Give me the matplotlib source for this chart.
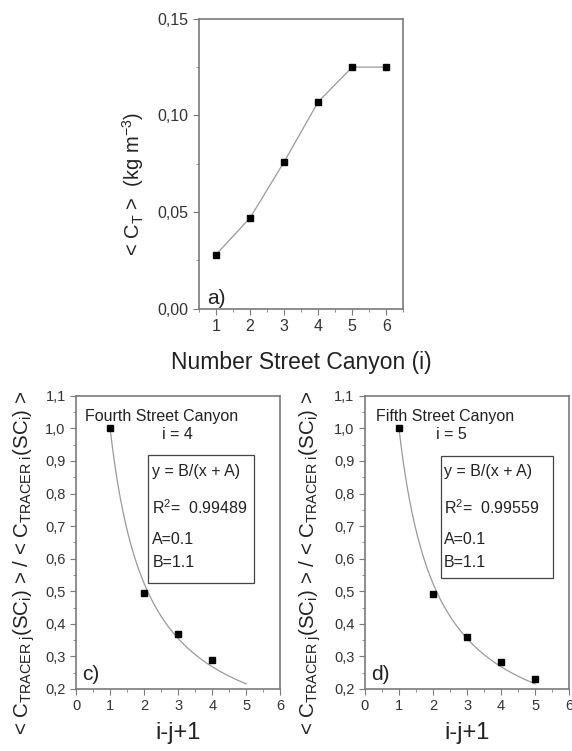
import numpy as np
import matplotlib.pyplot as plt
from matplotlib.ticker import MultipleLocator, FuncFormatter

plt.rcParams['font.family'] = ['Liberation Sans', 'DejaVu Sans']
plt.rcParams['mathtext.fontset'] = 'custom'
plt.rcParams['mathtext.rm'] = 'Liberation Sans'
plt.rcParams['mathtext.it'] = 'Liberation Sans'

# panel a) mean tracer concentration per street canyon
canyon = [1, 2, 3, 4, 5, 6]
conc = [0.028, 0.047, 0.076, 0.107, 0.125, 0.125]

# panel c) fourth street canyon, i = 4
c_x = [1, 2, 3, 4]
c_y = [1.0, 0.495, 0.37, 0.29]
c_r2 = "0.99489"

# panel d) fifth street canyon, i = 5
d_x = [1, 2, 3, 4, 5]
d_y = [1.0, 0.49, 0.358, 0.283, 0.232]
d_r2 = "0.99559"

# fit parameters y = B/(x + A)
fit_A = 0.1
fit_B = 1.1

axis_grey = '#7a7a7a'
line_grey = '#9a9a9a'
txt = '#222222'


def style_axes(ax, size):
    for s in ax.spines.values():
        s.set_color(axis_grey)
        s.set_linewidth(1.2)
    ax.tick_params(which='both', direction='out', colors=axis_grey,
                   labelcolor='#333333', labelsize=size)
    ax.tick_params(which='major', length=4)
    ax.tick_params(which='minor', length=2.5)
    ax.tick_params(top=False, right=False)


fig = plt.figure(figsize=(5.72, 7.51), dpi=100)

# ---- a) ----
ax = fig.add_axes([0.348, 0.589, 0.357, 0.386])
ax.plot(canyon, conc, '-', color=line_grey, lw=0.9)
ax.plot(canyon, conc, 's', color='black', ms=4.5)
ax.set_xlim(0.5, 6.5)
ax.set_ylim(0, 0.15)
ax.xaxis.set_major_locator(MultipleLocator(1))
ax.xaxis.set_minor_locator(MultipleLocator(0.5))
ax.yaxis.set_major_locator(MultipleLocator(0.05))
ax.yaxis.set_minor_locator(MultipleLocator(0.025))
ax.yaxis.set_major_formatter(FuncFormatter(lambda v, p: ('%.2f' % v).replace('.', ',')))
style_axes(ax, 11.5)
ax.set_xlabel('Number Street Canyon (i)', fontsize=16.5, labelpad=12, color=txt)
ax.set_ylabel(r'< C$_{\mathrm{T}}$ >  (kg m$^{\mathrm{-3}}$)', fontsize=14.5, color=txt)
ax.yaxis.set_label_coords(-0.26, 0.43)
ax.text(0.04, 0.015, 'a)', transform=ax.transAxes, fontsize=15, color=txt)

ylab = (r'< C$_{\mathrm{TRACER\ j}}$(SC$_{\mathrm{i}}$) > / '
        r'< C$_{\mathrm{TRACER\ i}}$(SC$_{\mathrm{i}}$) >')

# left, x, y, R2, title, title x, sub, sub x, tag, box (x, y, w, h), text x, label x
panels = [
    (0.133, c_x, c_y, c_r2, 'Fourth Street Canyon', 0.26, 'i = 4', 2.97, 'c)',
     (2.12, 0.526, 3.12, 0.393), 2.24, -0.19),
    (0.638, d_x, d_y, d_r2, 'Fifth Street Canyon', 0.32, 'i = 5', 2.53, 'd)',
     (2.24, 0.541, 3.29, 0.375), 2.32, -0.205),
]

for left, xs, ys, r2, title, title_x, sub, sub_x, tag, box, tx, lab_x in panels:
    ax = fig.add_axes([left, 0.0826, 0.357, 0.3904])
    xf = np.linspace(1, 5, 200)
    ax.plot(xf, fit_B / (xf + fit_A), '-', color=line_grey, lw=0.9)
    ax.plot(xs, ys, 's', color='black', ms=4.5)
    ax.set_xlim(0, 6)
    ax.set_ylim(0.2, 1.1)
    ax.xaxis.set_major_locator(MultipleLocator(1))
    ax.xaxis.set_minor_locator(MultipleLocator(0.5))
    ax.yaxis.set_major_locator(MultipleLocator(0.1))
    ax.yaxis.set_minor_locator(MultipleLocator(0.05))
    ax.yaxis.set_major_formatter(FuncFormatter(lambda v, p: ('%.1f' % v).replace('.', ',')))
    style_axes(ax, 10.5)
    ax.set_xlabel('i-j+1', fontsize=17, labelpad=6, color=txt)
    ax.set_ylabel(ylab, fontsize=14.8, color=txt)
    ax.yaxis.set_label_coords(lab_x, 0.43)
    ax.text(title_x, 1.035, title, fontsize=11.5, color=txt, va='center')
    ax.text(sub_x, 0.98, sub, fontsize=11.5, color=txt, va='center', ha='center')
    bx, by, bw, bh = box
    ax.add_patch(plt.Rectangle((bx, by), bw, bh, fill=False, ec='#444444', lw=0.9))
    ax.text(tx, 0.867, 'y = B/(x + A)', fontsize=11.5, color=txt, va='center')
    ax.text(tx, 0.756, r'R$^{\mathrm{2}}$=  ' + r2, fontsize=11.5, color=txt, va='center')
    ax.text(tx, 0.658, 'A=%.1f' % fit_A, fontsize=11.5, color=txt, va='center')
    ax.text(tx, 0.587, 'B=%.1f' % fit_B, fontsize=11.5, color=txt, va='center')
    ax.text(0.03, 0.03, tag, transform=ax.transAxes, fontsize=15, color=txt)

fig.savefig('out.png', dpi=100)
